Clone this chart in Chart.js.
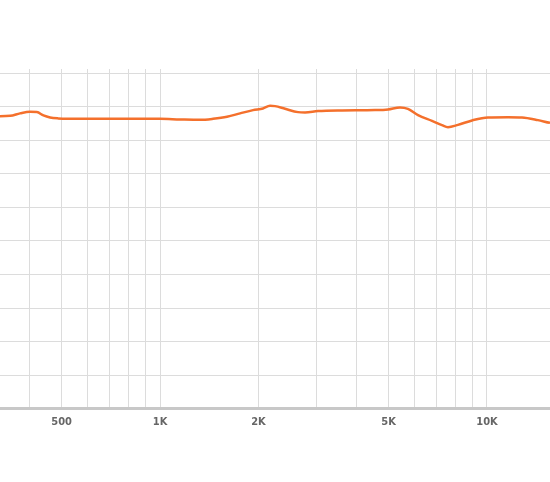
<!DOCTYPE html>
<html>
<head>
<meta charset="utf-8">
<script src="https://cdn.jsdelivr.net/npm/chart.js@4"></script>
<style>
html,body{margin:0;padding:0;background:#fff;}
#wrap{width:550px;height:482px;position:relative;}
</style>
</head>
<body>
<div id="wrap"><canvas id="c"></canvas></div>
<script>
const frequencies = [310,324,348,373,400,420,440,461,488,518,600,700,800,1000,1151,1325,1453,1603,1757,1925,2065,2170,2248,2412,2643,2776,3042,3603,4545,4981,5420,5732,6152,6788,7284,7598,8152,8999,10070,11595,12796,14322,15585,16000];
const response = [3.58,3.58,3.63,3.99,4.22,4.18,3.69,3.39,3.24,3.18,3.18,3.18,3.18,3.18,3.09,3.03,3.18,3.48,3.99,4.48,4.73,5.12,5.07,4.67,4.18,4.13,4.33,4.43,4.48,4.58,4.88,4.67,3.73,2.88,2.24,1.94,2.28,2.94,3.39,3.43,3.39,2.99,2.58,2.5];
const gridFrequencies = [400,500,600,700,800,900,1000,2000,3000,4000,5000,6000,7000,8000,9000,10000];
const labelMap = {500:'500',1000:'1K',2000:'2K',5000:'5K',10000:'10K'};
const yGridValues = [10,5,0,-5,-10,-15,-20,-25,-30,-35,-40];

const points = frequencies.map((f,i)=>({x:f,y:response[i]}));

new Chart(document.getElementById('c'),{
  type:'line',
  data:{datasets:[{
    data:points,
    borderColor:'#f4702c',
    borderWidth:2.5,
    pointRadius:0,
    fill:false,
    cubicInterpolationMode:'monotone'
  }]},
  options:{
    responsive:true,
    maintainAspectRatio:false,
    animation:false,
    layout:{padding:{top:69,left:0,right:0,bottom:46}},
    plugins:{legend:{display:false},tooltip:{enabled:false}},
    scales:{
      x:{
        type:'logarithmic',
        min:324,max:15585,
        afterBuildTicks:(s)=>{s.ticks=gridFrequencies.map(v=>({value:v}));},
        afterFit:(s)=>{s.paddingLeft=0;s.paddingRight=0;},
        grid:{color:'#dcdcdc',lineWidth:1,drawTicks:false},
        border:{display:true,color:'#c8c8c8',width:3},
        ticks:{
          autoSkip:false,maxRotation:0,padding:7,
          color:'#666',
          font:{family:'"Liberation Sans Narrow","DejaVu Sans Condensed",sans-serif',size:11,weight:'bold'},
          callback:(v)=>labelMap[v]||''
        }
      },
      y:{
        type:'linear',
        min:-40,max:10.6,
        afterBuildTicks:(s)=>{s.ticks=yGridValues.map(v=>({value:v}));},
        afterFit:(s)=>{s.width=0;},
        grid:{color:'#dcdcdc',lineWidth:1,drawTicks:false},
        border:{display:false},
        ticks:{display:false}
      }
    }
  }
});
</script>
</body>
</html>
